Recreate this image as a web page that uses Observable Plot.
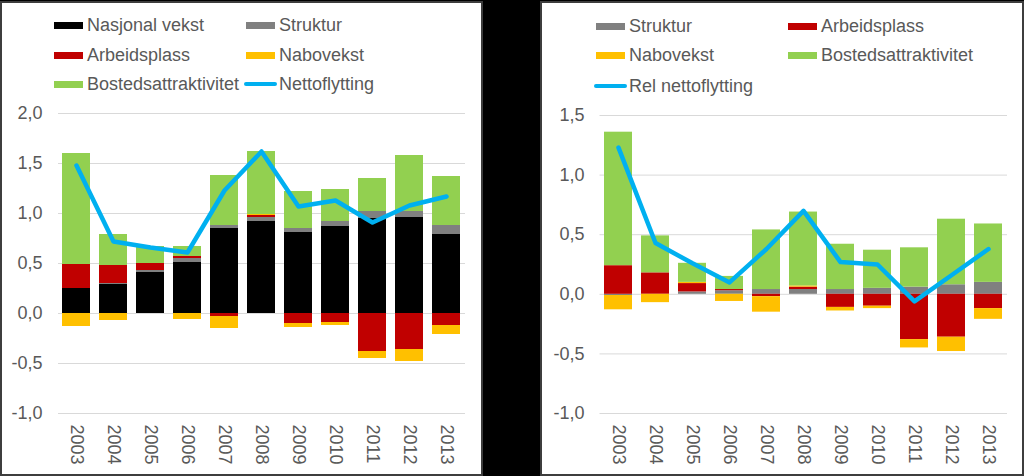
<!DOCTYPE html>
<html><head><meta charset="utf-8">
<script src="https://cdn.jsdelivr.net/npm/d3@7"></script>
<script src="https://cdn.jsdelivr.net/npm/@observablehq/plot@0.6"></script>
<style>
html,body{margin:0;padding:0;background:#000;width:1024px;height:476px;overflow:hidden;font-family:"Liberation Sans",Arial,sans-serif;}
#root{position:relative;width:1024px;height:476px;}
.panel{position:absolute;background:#fff;box-sizing:border-box;border:2px solid #3d3d3d;}
.chart{position:absolute;top:0;}
.leg{position:absolute;display:flex;align-items:center;font-size:18px;color:#595959;white-space:nowrap;height:24px;}
.sw{display:inline-block;width:29px;height:7px;margin-right:4px;}
.ln{display:inline-block;width:33px;height:4px;border-radius:2px;margin-right:2px;}
</style></head><body>
<div id="root"></div>
<script>
// ---- data ----
const years = ["2003","2004","2005","2006","2007","2008","2009","2010","2011","2012","2013"];
const seriesNames = ["Nasjonal vekst","Struktur","Arbeidsplass","Nabovekst","Bostedsattraktivitet"];
const seriesColors = ["#000000","#808080","#C00000","#FFC000","#92D050"];
const lineColor = "#00B0F0";
const lineNameLeft = "Nettoflytting";
const lineNameRight = "Rel nettoflytting";

// left panel
const nasjonalVekst = [0.25, 0.29, 0.41, 0.51, 0.85, 0.92, 0.81, 0.87, 0.95, 0.96, 0.79];
const strukturL     = [0.00, 0.01, 0.02, 0.04, 0.03, 0.04, 0.04, 0.05, 0.07, 0.06, 0.09];
const arbeidsL      = [0.24, 0.18, 0.07, 0.02, -0.03, 0.02, -0.10, -0.09, -0.38, -0.36, -0.12];
const naboL         = [-0.13, -0.07, 0.00, -0.06, -0.12, 0.01, -0.04, -0.03, -0.07, -0.12, -0.09];
const bostedL       = [1.11, 0.31, 0.17, 0.10, 0.50, 0.63, 0.37, 0.32, 0.33, 0.56, 0.49];
const nettoL        = [1.48, 0.72, 0.66, 0.61, 1.23, 1.62, 1.07, 1.13, 0.91, 1.08, 1.17];

// right panel
const strukturR = [-0.01, 0.00, 0.02, 0.03, 0.04, 0.04, 0.04, 0.05, 0.06, 0.08, 0.10];
const arbeidsR  = [0.24, 0.18, 0.07, 0.01, -0.02, 0.02, -0.11, -0.10, -0.38, -0.36, -0.12];
const naboR     = [-0.12, -0.07, 0.01, -0.06, -0.13, 0.01, -0.03, -0.02, -0.07, -0.12, -0.09];
const bostedR   = [1.12, 0.31, 0.16, 0.11, 0.50, 0.62, 0.38, 0.32, 0.33, 0.55, 0.49];
const relNetto  = [1.23, 0.43, 0.26, 0.10, 0.38, 0.70, 0.27, 0.25, -0.06, 0.16, 0.38];

const ticksLeft = [-1, -0.5, 0, 0.5, 1, 1.5, 2];
const ticksRight = [-1, -0.5, 0, 0.5, 1, 1.5];

// ---- helpers ----
const FONT = '"Liberation Sans", Arial, sans-serif';
const toComma = d => d.toFixed(1).replace(".", ",");
function tidy(names, arrays) {
  const rows = [];
  names.forEach((s, i) => years.forEach((y, j) => rows.push({year: y, series: s, value: arrays[i][j]})));
  return rows;
}
const lineRows = arr => years.map((y, j) => ({year: y, value: arr[j]}));

function makeChart(o) {
  return Plot.plot({
    width: o.width, height: 474,
    marginLeft: o.marginLeft, marginRight: o.marginRight, marginTop: o.marginTop, marginBottom: 61,
    style: {fontFamily: FONT, fontSize: "18px", background: "transparent", overflow: "visible"},
    x: {type: "band", domain: years, paddingInner: 0.24, paddingOuter: 0.12, axis: null, label: null},
    y: {domain: o.domain, axis: null, label: null},
    color: {domain: seriesNames, range: seriesColors},
    marks: [
      Plot.gridY(o.ticks, {stroke: "#d9d9d9", strokeOpacity: 1, strokeWidth: 1}),
      Plot.barY(o.rows, Plot.stackY({x: "year", y: "value", fill: "series", order: null})),
      Plot.line(o.line, {x: "year", y: "value", stroke: lineColor, strokeWidth: 4.5, strokeLinejoin: "round", strokeLinecap: "round"}),
      Plot.axisY(o.ticks, {tickSize: 0, tickPadding: o.tickPadding, tickFormat: toComma, fill: "#595959", fontSize: 18, label: null}),
      Plot.text(years, {x: d => d, frameAnchor: "bottom", rotate: 90, textAnchor: "start", lineAnchor: "middle", dy: 11, fill: "#595959", fontSize: 18})
    ]
  });
}

const root = document.getElementById("root");
function panel(left, width) {
  const p = document.createElement("div");
  p.className = "panel";
  Object.assign(p.style, {left: left + "px", top: "1px", width: width + "px", height: "475px"});
  root.appendChild(p);
}
function legendItem(x, cy, label, color, isLine) {
  const d = document.createElement("div");
  d.className = "leg";
  d.style.left = x + "px";
  d.style.top = (cy - 12) + "px";
  const s = document.createElement("span");
  s.className = isLine ? "ln" : "sw";
  s.style.background = color;
  d.appendChild(s);
  d.appendChild(document.createTextNode(label));
  root.appendChild(d);
}

panel(0, 483);
panel(540, 484);

const left = makeChart({
  width: 482, marginLeft: 58, marginRight: 17, marginTop: 113,
  domain: [-1, 2], ticks: ticksLeft, tickPadding: 16,
  rows: tidy(seriesNames, [nasjonalVekst, strukturL, arbeidsL, naboL, bostedL]),
  line: lineRows(nettoL)
});
left.classList.add("chart");
left.style.left = "0px";
root.appendChild(left);

const right = makeChart({
  width: 480, marginLeft: 58.5, marginRight: 14, marginTop: 115,
  domain: [-1, 1.5], ticks: ticksRight, tickPadding: 15.5,
  rows: tidy(seriesNames.slice(1), [strukturR, arbeidsR, naboR, bostedR]),
  line: lineRows(relNetto)
});
right.classList.add("chart");
right.style.left = "541px";
root.appendChild(right);

// legends
legendItem(54, 25, seriesNames[0], seriesColors[0]);
legendItem(246, 25, seriesNames[1], seriesColors[1]);
legendItem(54, 55, seriesNames[2], seriesColors[2]);
legendItem(246, 55, seriesNames[3], seriesColors[3]);
legendItem(54, 84, seriesNames[4], seriesColors[4]);
legendItem(244, 84, lineNameLeft, lineColor, true);

legendItem(596, 26, seriesNames[1], seriesColors[1]);
legendItem(788, 26, seriesNames[2], seriesColors[2]);
legendItem(596, 55, seriesNames[3], seriesColors[3]);
legendItem(788, 55, seriesNames[4], seriesColors[4]);
legendItem(594, 86, lineNameRight, lineColor, true);
</script>
</body></html>
